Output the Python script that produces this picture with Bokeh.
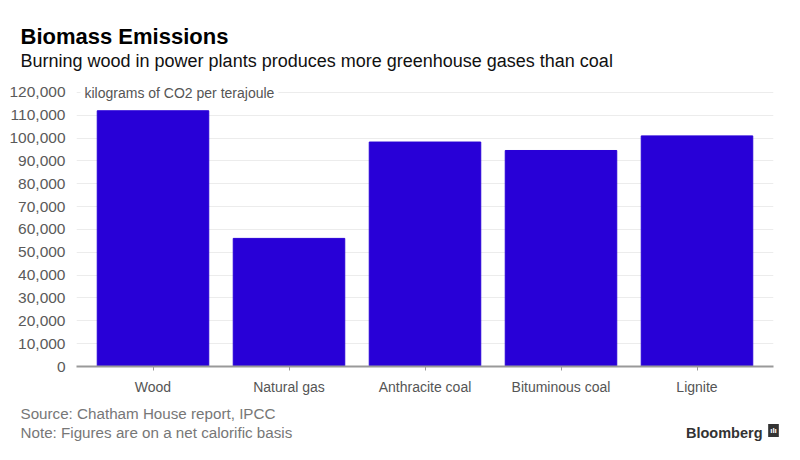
from bokeh.plotting import figure
from bokeh.layouts import column
from bokeh.models import FactorRange, Range1d, Label, NumeralTickFormatter, FixedTicker, ColumnDataSource
from bokeh.embed import file_html
from bokeh.resources import INLINE

categories = ["Wood", "Natural gas", "Anthracite coal", "Bituminous coal", "Lignite"]
emissions = [112000, 56100, 98300, 94600, 101000]
y_ticks = [0, 10000, 20000, 30000, 40000, 50000, 60000, 70000, 80000, 90000, 100000, 110000, 120000]

title = "Biomass Emissions"
subtitle = "Burning wood in power plants produces more greenhouse gases than coal"
unit_label = "kilograms of CO2 per terajoule"
source_note = "Source: Chatham House report, IPCC"
note = "Note: Figures are on a net calorific basis"
brand = "Bloomberg"

FONT = "Liberation Sans"
BAR = "#2800D7"


def blank(h):
    f = figure(width=800, height=h, output_backend="svg", toolbar_location=None,
               x_axis_type=None, y_axis_type=None,
               x_range=Range1d(0, 800), y_range=Range1d(0, h),
               min_border=0, min_border_left=0, min_border_right=0,
               min_border_top=0, min_border_bottom=0)
    f.frame_align = False
    f.outline_line_color = None
    f.background_fill_color = "white"
    f.border_fill_color = "white"
    return f


def lab(fig, text, x, y, size, color, style="normal", align="left", baseline="alphabetic", **kw):
    l = Label(x=x, y=y, x_units="screen", y_units="screen", text=text,
              text_font=FONT, text_font_size=size, text_color=color,
              text_font_style=style, text_align=align, text_baseline=baseline, **kw)
    fig.add_layout(l)
    return l


# header
head = blank(80)
lab(head, title, 20, 44, "22px", "#000000", style="bold", baseline="middle")
lab(head, subtitle, 20, 20, "18px", "#111111", baseline="middle")

# main chart
src = ColumnDataSource(dict(cat=categories, val=emissions))
p = figure(width=800, height=320, output_backend="svg", toolbar_location=None,
           x_range=FactorRange(factors=categories, range_padding=0.025),
           y_range=Range1d(0, 123500),
           min_border_left=76, min_border_right=27, min_border_top=4, min_border_bottom=34)
p.frame_align = False
p.outline_line_color = None
p.background_fill_color = "white"
p.border_fill_color = "white"

p.vbar(x="cat", top="val", width=0.82, source=src, fill_color=BAR, line_color=BAR)

p.xgrid.grid_line_color = None
p.ygrid.grid_line_color = "#ececec"
p.ygrid.grid_line_width = 1

p.yaxis.ticker = FixedTicker(ticks=y_ticks)
p.yaxis.formatter = NumeralTickFormatter(format="0,0")
p.yaxis.axis_line_color = None
p.yaxis.major_tick_line_color = None
p.yaxis.minor_tick_line_color = None
p.yaxis.major_label_text_font = FONT
p.yaxis.major_label_text_font_size = "15.5px"
p.yaxis.major_label_text_color = "#5a5a5a"
p.yaxis.major_label_standoff = 5

p.xaxis.axis_line_color = "#999999"
p.xaxis.axis_line_width = 2
p.xaxis.major_tick_line_color = "#999999"
p.xaxis.major_tick_in = 0
p.xaxis.major_tick_out = 4
p.xaxis.major_label_text_font = FONT
p.xaxis.major_label_text_font_size = "14px"
p.xaxis.major_label_text_color = "#555555"
p.xaxis.major_label_standoff = 8

lab(p, unit_label, 4, 274, "14px", "#555555", baseline="middle",
    background_fill_color="white", padding=4)

# footer
foot = blank(60)
lab(foot, source_note, 20, 47, "15.2px", "#777777", baseline="middle")
lab(foot, note, 20, 28, "15.2px", "#777777", baseline="middle")
lab(foot, brand, 762, 28, "14.5px", "#333333", style="bold", align="right", baseline="middle")
lab(foot, "ılı", 773, 30, "8px", "white", style="bold", align="center", baseline="middle",
    background_fill_color="#333333", padding=2)

layout = column(head, p, foot, spacing=0)
open("out.html", "w").write(file_html(layout, INLINE))
